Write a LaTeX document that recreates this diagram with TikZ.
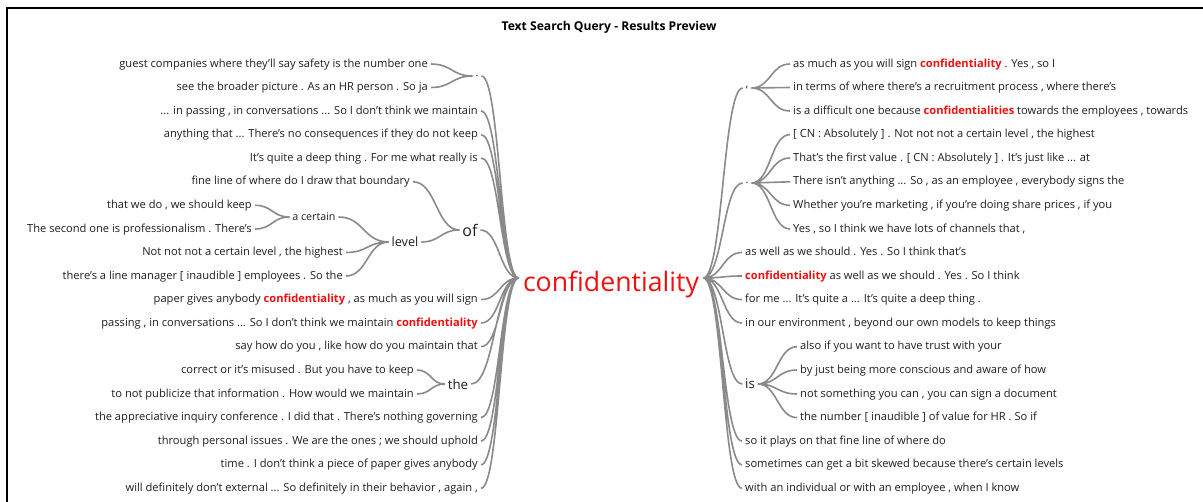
\documentclass[tikz,border=0pt]{standalone}
\usepackage{fontspec}
\setmainfont{Open Sans}
\usetikzlibrary{calc}
\definecolor{inkdark}{RGB}{30,30,30}
\definecolor{hitred}{RGB}{240,16,16}
\definecolor{linkgray}{RGB}{138,138,138}
\newcommand{\hit}[1]{\textcolor{hitred}{\bfseries #1}}

\begin{document}
\begin{tikzpicture}[
    x=0.75pt, y=-0.75pt,
    leaf/.style={text=inkdark, font=\fontsize{8.35}{10}\selectfont, inner sep=2.2pt, text height=6.5pt, text depth=1.8pt},
    leafL/.style={leaf, anchor=east},
    leafR/.style={leaf, anchor=west},
    joint/.style={text=inkdark, inner sep=2pt},
    link/.style={draw=linkgray, line width=1.2pt, to path={let \p1=(\tikztostart), \p2=(\tikztotarget) in .. controls ({0.5*\x1+0.5*\x2},\y1) and ({0.5*\x1+0.5*\x2},\y2) .. (\tikztotarget)}}
]

% Canvas & frame
\useasboundingbox (0,0) rectangle (1203,502);
\draw[black, line width=1.5pt] (7,502) -- (7,8) -- (1203,8);

% Title
\node[text=black, font=\fontsize{9.1}{11}\selectfont\bfseries] (title) at (609,27) {Text Search Query - Results Preview};

% Search term
\node[text=hitred, font=\fontsize{20}{24}\selectfont, inner sep=3pt] (root) at (611,285) {confidentiality};
\coordinate (hubL) at ($(root.west)+(0,-7)$);
\coordinate (hubR) at ($(root.east)+(0,-7)$);

% 1. LEFT BRANCHES
\node[leafL] (l1) at (431,64) {guest companies where they'll say safety is the number one};
\node[leafL] (l2) at (431,87.5) {see the broader picture . As an HR person . So ja};
\node[joint, font=\fontsize{8.35}{10}\selectfont] (ldot) at (477,76) {.};
\node[leafL] (l3) at (481,111) {... in passing , in conversations ... So I don't think we maintain};
\node[leafL] (l4) at (481,134.6) {anything that ... There's no consequences if they do not keep};
\node[leafL] (l5) at (481,158) {It's quite a deep thing . For me what really is};
\node[leafL] (l6) at (413,181.8) {fine line of where do I draw that boundary};
\node[leafL] (l7) at (255,205.3) {that we do , we should keep};
\node[leafL] (l8) at (255,229) {The second one is professionalism . There's};
\node[joint, font=\fontsize{8}{10}\selectfont] (lcertain) at (314,217) {a certain};
\node[leafL] (l9) at (346,252.5) {Not not not a certain level , the highest};
\node[leafL] (l10) at (346,276) {there's a line manager [ inaudible ] employees . So the};
\node[joint, font=\fontsize{9.5}{12}\selectfont] (llevel) at (405,242) {level};
\node[joint, font=\fontsize{12}{14}\selectfont] (lof) at (470,230) {of};
\node[leafL] (l11) at (481,299.6) {paper gives anybody \hit{confidentiality} , as much as you will sign};
\node[leafL] (l12) at (481,323) {passing , in conversations ... So I don't think we maintain \hit{confidentiality}};
\node[leafL] (l13) at (481,346.7) {say how do you , like how do you maintain that};
\node[leafL] (l14) at (417,370) {correct or it's misused . But you have to keep};
\node[leafL] (l15) at (417,394) {to not publicize that information . How would we maintain};
\node[joint, font=\fontsize{10}{12}\selectfont] (lthe) at (458,384) {the};
\node[leafL] (l16) at (481,417.6) {the appreciative inquiry conference . I did that . There's nothing governing};
\node[leafL] (l17) at (481,441) {through personal issues . We are the ones ; we should uphold};
\node[leafL] (l18) at (481,464.8) {time . I don't think a piece of paper gives anybody};
\node[leafL] (l19) at (481,488.3) {will definitely don't external ... So definitely in their behavior , again ,};

% 2. RIGHT BRANCHES
\node[joint, font=\fontsize{8.35}{10}\selectfont] (rcomma) at (747,88) {,};
\node[leafR] (r1) at (790,64) {as much as you will sign \hit{confidentiality} . Yes , so I};
\node[leafR] (r2) at (790,87.5) {in terms of where there's a recruitment process , where there's};
\node[leafR] (r3) at (790,111) {is a difficult one because \hit{confidentialities} towards the employees , towards};
\node[joint, font=\fontsize{8.35}{10}\selectfont] (rdot) at (747,183) {.};
\node[leafR] (r4) at (790,134.6) {[ CN : Absolutely ] . Not not not a certain level , the highest};
\node[leafR] (r5) at (790,158) {That's the first value . [ CN : Absolutely ] . It's just like ... at};
\node[leafR] (r6) at (790,181.8) {There isn't anything ... So , as an employee , everybody signs the};
\node[leafR] (r7) at (790,205.3) {Whether you're marketing , if you're doing share prices , if you};
\node[leafR] (r8) at (790,229) {Yes , so I think we have lots of channels that ,};
\node[leafR] (r9) at (742,252.5) {as well as we should . Yes . So I think that's};
\node[leafR] (r10) at (742,276) {\hit{confidentiality} as well as we should . Yes . So I think};
\node[leafR] (r11) at (742,299.6) {for me ... It's quite a ... It's quite a deep thing .};
\node[leafR] (r12) at (742,323) {in our environment , beyond our own models to keep things};
\node[joint, font=\fontsize{10}{12}\selectfont] (ris) at (750,384) {is};
\node[leafR] (r13) at (797,346.7) {also if you want to have trust with your};
\node[leafR] (r14) at (797,370) {by just being more conscious and aware of how};
\node[leafR] (r15) at (797,394) {not something you can , you can sign a document};
\node[leafR] (r16) at (797,417.6) {the number [ inaudible ] of value for HR . So if};
\node[leafR] (r17) at (742,441) {so it plays on that fine line of where do};
\node[leafR] (r18) at (742,464.8) {sometimes can get a bit skewed because there's certain levels};
\node[leafR] (r19) at (742,488.3) {with an individual or with an employee , when I know};

% 3. CONNECTORS (left)
\draw[link] (hubL) to (ldot.east) (hubL) to (l3.east) (hubL) to (l4.east) (hubL) to (l5.east)
    (hubL) to (lof.east) (hubL) to (l11.east) (hubL) to (l12.east) (hubL) to (l13.east)
    (hubL) to (lthe.east) (hubL) to (l16.east) (hubL) to (l17.east) (hubL) to (l18.east)
    (hubL) to (l19.east);
\draw[link] (ldot.west) to (l1.east) (ldot.west) to (l2.east);
\draw[link] (lof.west) to (l6.east) (lof.west) to (llevel.east);
\draw[link] (llevel.west) to (lcertain.east) (llevel.west) to (l9.east) (llevel.west) to (l10.east);
\draw[link] (lcertain.west) to (l7.east) (lcertain.west) to (l8.east);
\draw[link] (lthe.west) to (l14.east) (lthe.west) to (l15.east);

% 4. CONNECTORS (right)
\draw[link] (hubR) to (rcomma.west) (hubR) to (rdot.west) (hubR) to (r9.west) (hubR) to (r10.west)
    (hubR) to (r11.west) (hubR) to (r12.west) (hubR) to (ris.west) (hubR) to (r17.west)
    (hubR) to (r18.west) (hubR) to (r19.west);
\draw[link] (rcomma.east) to (r1.west) (rcomma.east) to (r2.west) (rcomma.east) to (r3.west);
\draw[link] (rdot.east) to (r4.west) (rdot.east) to (r5.west) (rdot.east) to (r6.west)
    (rdot.east) to (r7.west) (rdot.east) to (r8.west);
\draw[link] (ris.east) to (r13.west) (ris.east) to (r14.west) (ris.east) to (r15.west) (ris.east) to (r16.west);

\end{tikzpicture}
\end{document}
